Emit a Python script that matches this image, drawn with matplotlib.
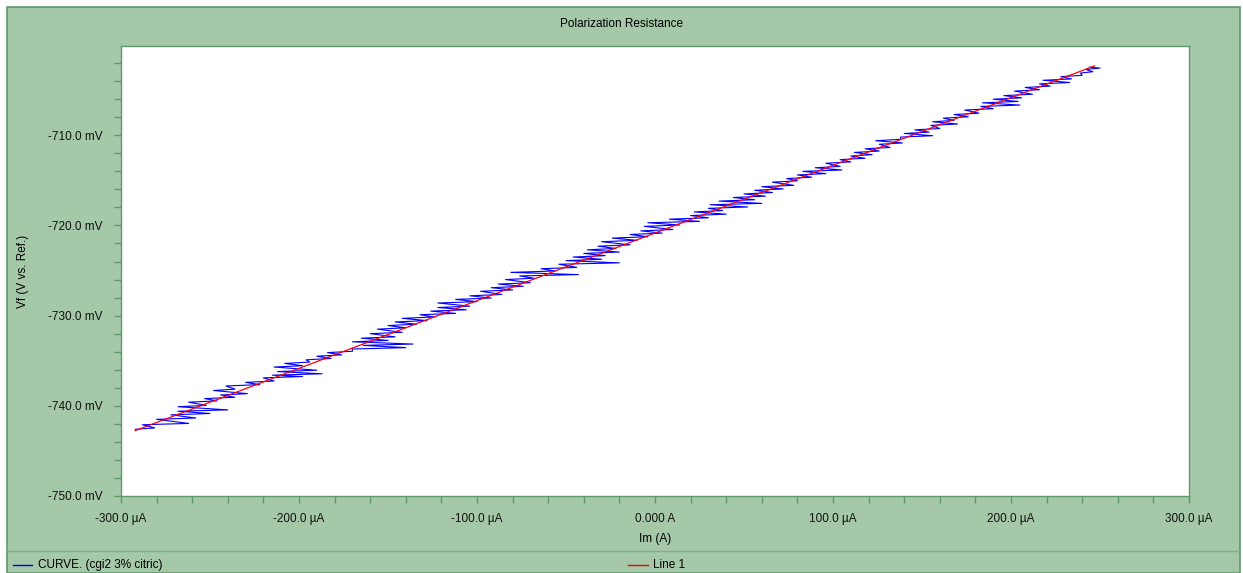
import matplotlib
matplotlib.use("Agg")
import matplotlib.pyplot as plt
from matplotlib.patches import Rectangle
from matplotlib.lines import Line2D
from matplotlib.ticker import MultipleLocator, FuncFormatter

plt.rcParams['font.family'] = ['Liberation Sans', 'DejaVu Sans']

# measured curve (turning points of the sweep), current in uA, potential in mV
curve_i = [-292, -281, -288, -262, -280, -258, -272, -250, -268, -240,
           -268, -252, -262, -246, -253, -236, -244, -229, -248, -236,
           -241, -222, -230, -214, -220, -198, -215, -187, -212, -190,
           -214, -198, -208, -194, -196, -182, -190, -176, -184, -170,
           -170, -140, -164, -136, -170, -150, -165, -146, -160, -142,
           -156, -140, -150, -134, -146, -128, -142, -124, -132, -112,
           -126, -106, -122, -104, -122, -100, -112, -92, -104, -86,
           -98, -80, -92, -74, -88, -70, -84, -68, -76, -43,
           -81, -56, -64, -44, -54, -20, -50, -30, -46, -28,
           -40, -20, -38, -22, -32, -14, -30, -10, -24, -4,
           -14, 4, -8, 10, -6, 14, -4, 25, 8, 30,
           20, 40, 22, 38, 30, 52, 31, 60, 36, 56,
           44, 62, 50, 66, 56, 72, 60, 78, 66, 80,
           74, 88, 80, 96, 83, 105, 90, 104, 96, 110,
           104, 118, 110, 122, 112, 126, 118, 132, 126, 139,
           124, 138, 138, 156, 140, 154, 146, 160, 155, 170,
           156, 168, 162, 176, 168, 182, 174, 190, 183, 205,
           184, 204, 190, 206, 196, 212, 202, 216, 208, 222,
           216, 233, 218, 234, 228, 240, 239, 246, 242, 250,
           244]
curve_v = [-742.6, -742.45, -742.1, -741.95, -741.5, -741.35, -741.0, -740.85, -740.6, -740.45,
           -740.1, -739.95, -739.6, -739.45, -739.2, -739.05, -738.8, -738.65, -738.3, -738.15,
           -737.8, -737.65, -737.4, -737.25, -736.9, -736.75, -736.6, -736.45, -736.2, -736.05,
           -735.7, -735.55, -735.3, -735.15, -734.9, -734.75, -734.5, -734.35, -734.1, -733.95,
           -733.7, -733.55, -733.3, -733.15, -732.9, -732.75, -732.5, -732.35, -732.0, -731.85,
           -731.5, -731.35, -731.1, -730.95, -730.7, -730.55, -730.3, -730.15, -729.9, -729.75,
           -729.5, -729.35, -729.1, -728.95, -728.6, -728.45, -728.2, -728.05, -727.8, -727.65,
           -727.3, -727.15, -726.9, -726.75, -726.5, -726.35, -726.0, -725.85, -725.6, -725.45,
           -725.2, -725.05, -724.8, -724.65, -724.3, -724.15, -723.9, -723.75, -723.5, -723.35,
           -723.1, -722.95, -722.7, -722.55, -722.3, -722.15, -721.8, -721.65, -721.4, -721.25,
           -721.0, -720.85, -720.6, -720.45, -720.1, -719.95, -719.7, -719.55, -719.3, -719.15,
           -718.9, -718.75, -718.5, -718.35, -718.1, -717.95, -717.7, -717.55, -717.3, -717.15,
           -716.9, -716.75, -716.5, -716.35, -716.1, -715.95, -715.7, -715.55, -715.2, -715.05,
           -714.8, -714.65, -714.4, -714.25, -714.0, -713.85, -713.6, -713.45, -713.1, -712.95,
           -712.7, -712.55, -712.3, -712.15, -711.9, -711.75, -711.5, -711.35, -711.0, -710.85,
           -710.6, -710.45, -710.2, -710.05, -709.8, -709.65, -709.4, -709.25, -708.9, -708.75,
           -708.5, -708.35, -708.1, -707.95, -707.7, -707.55, -707.2, -707.05, -706.8, -706.65,
           -706.4, -706.25, -706.0, -705.85, -705.6, -705.45, -705.1, -704.95, -704.7, -704.55,
           -704.3, -704.15, -703.9, -703.75, -703.5, -703.35, -703.1, -702.95, -702.7, -702.55,
           -702.45]

# fitted line
fit_i = [-292, 247]
fit_v = [-742.75, -702.3]

green = '#a4c8a8'
dark = '#5f9a68'

W, H = 1243, 573
fig = plt.figure(figsize=(W / 100, H / 100), dpi=100, facecolor='white')

# green panel behind everything
fig.patches.append(Rectangle((7 / W, 0), (1240 - 7) / W, 1 - 7 / H, transform=fig.transFigure,
                             facecolor=green, edgecolor=dark, lw=1.2, zorder=-5))
fig.add_artist(Line2D([7 / W, 1240 / W], [1 - 551 / H] * 2, transform=fig.transFigure, color='#7fb088', lw=1))

ax = fig.add_axes([121 / W, 1 - 496 / H, (1189 - 121) / W, (496 - 46) / H])
ax.set_facecolor('white')
ax.plot(curve_i, curve_v, color='#0000ff', lw=0.8)
ax.plot(fit_i, fit_v, color='#ff0000', lw=0.9)

ax.set_xlim(-300, 300)
ax.set_ylim(-750, -700.1)
ax.xaxis.set_major_locator(MultipleLocator(100))
ax.xaxis.set_minor_locator(MultipleLocator(20))
ax.yaxis.set_major_locator(MultipleLocator(10))
ax.yaxis.set_minor_locator(MultipleLocator(2))

def fmt_x(v, pos):
    if abs(v) < 1e-9:
        return '0.000 A'
    return f'{v:.1f} \u00b5A'

def fmt_y(v, pos):
    return f'{v:.1f} mV'

ax.xaxis.set_major_formatter(FuncFormatter(fmt_x))
ax.yaxis.set_major_formatter(FuncFormatter(fmt_y))
ax.tick_params(which='both', direction='out', color=dark, length=5, width=1, labelsize=8.5,
               labelcolor='#111111')
ax.tick_params(axis='y', pad=8)
ax.tick_params(axis='x', pad=7)
for s in ax.spines.values():
    s.set_color(dark)
    s.set_linewidth(1)

ax.set_xlabel('Im (A)', fontsize=8.5, labelpad=6)
ax.set_ylabel('Vf (V vs. Ref.)', fontsize=8.5, labelpad=14)
fig.text(622 / W, 1 - 24 / H, 'Polarization Resistance', ha='center', va='center', fontsize=8.5)

# legend strip
fig.add_artist(Line2D([13 / W, 32 / W], [1 - 565 / H] * 2, transform=fig.transFigure, color='#0000ff', lw=1))
fig.text(38 / W, 1 - 565 / H, 'CURVE. (cgi2 3% citric)', ha='left', va='center', fontsize=8.5)
fig.add_artist(Line2D([628 / W, 648 / W], [1 - 565 / H] * 2, transform=fig.transFigure, color='#ff0000', lw=1))
fig.text(653 / W, 1 - 565 / H, 'Line 1', ha='left', va='center', fontsize=8.5)

fig.savefig('out.png', dpi=100, facecolor='white')
